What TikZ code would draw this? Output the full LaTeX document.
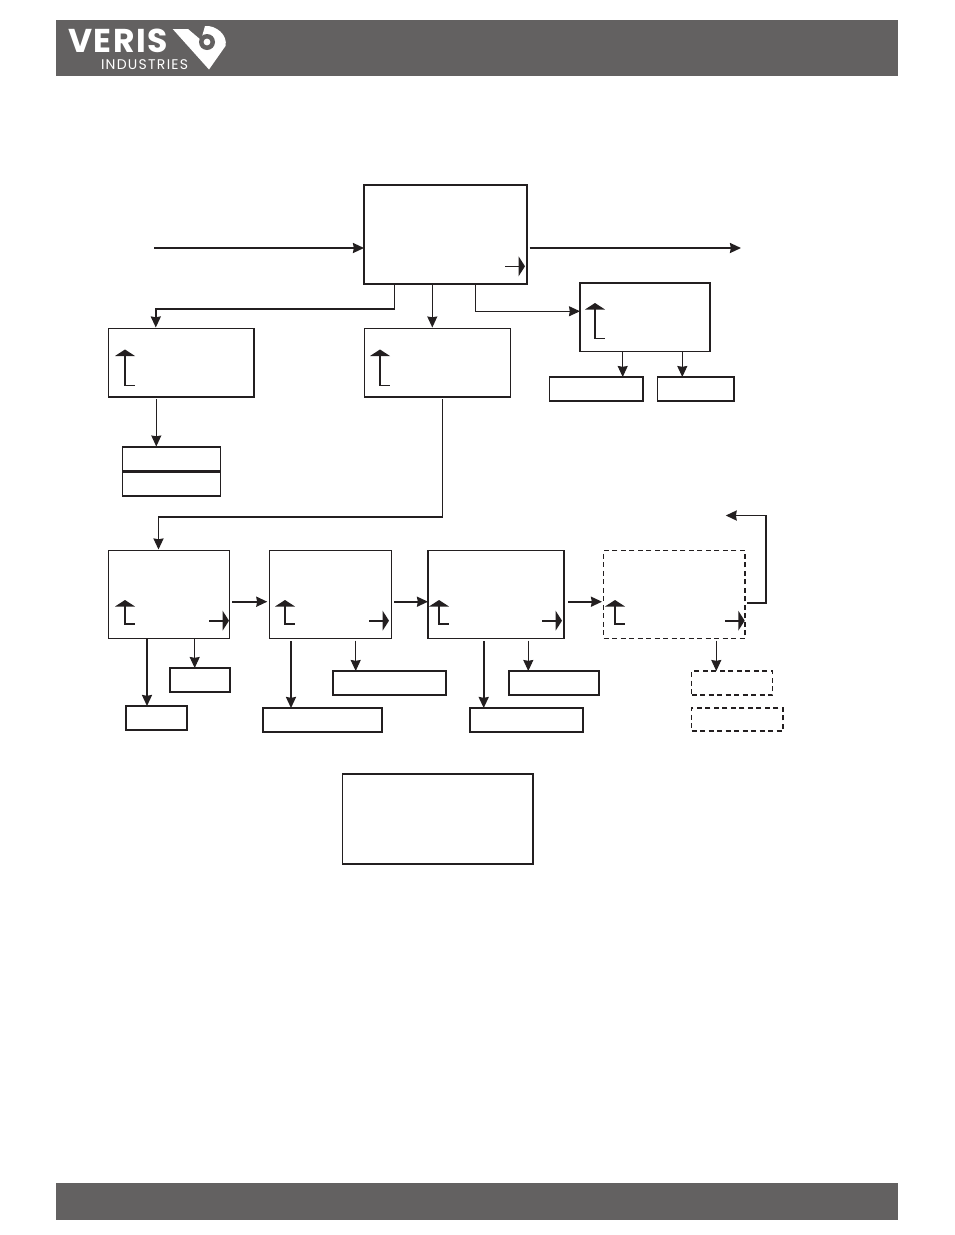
\documentclass[tikz,border=0pt]{standalone}
\usepackage{fontspec}
\setmainfont{Poppins}
\newfontfamily\verisfont[LetterSpace=5]{Poppins}
\newfontfamily\indfont[LetterSpace=9]{Poppins}
\usetikzlibrary{calc,arrows.meta}
\definecolor{barc}{HTML}{636161}
\definecolor{ink}{HTML}{231F20}
\tikzset{
 box/.style={draw=ink,anchor=north west,inner sep=0pt,outer sep=0pt,line width=1.7pt},
 thinbox/.style={box,line width=1.3pt},
 dbox/.style={box,line width=1.5pt,dash pattern=on 5pt off 3.5pt},
 link/.style={draw=ink,line width=1.1pt,-{Stealth[inset=0.8pt,length=11pt,width=10pt]}},
 boldlink/.style={link,line width=1.9pt,-{Stealth[inset=0.8pt,length=11pt,width=10pt]}},
 bar/.style={fill=barc,draw=none,anchor=north west,inner sep=0pt,outer sep=0pt},
 logo/.style={text=white,inner sep=0pt,outer sep=0pt,anchor=base west}
}
\newcommand{\mybox}[6][box]{\node[#1,minimum width=#4pt-#2pt,minimum height=#6pt-#5pt] (#3) at (#2,#5) {};}
\newcommand{\upmark}[4][1.9pt]{\draw[ink,line width=#1] (#2,#4+5)--(#2,#3)--(#2+10,#3);
 \fill[ink] (#2,#4)--(#2+10,#4+6.5)--(#2-10,#4+6.5)--cycle;}
\newcommand{\rgtmark}[3][1.9pt]{\draw[ink,line width=#1] (#2,#3)--(#2+14,#3);
 \fill[ink] (#2+19.7,#3)--(#2+13.3,#3+10)--(#2+13.3,#3-10)--cycle;}
\begin{document}
\begin{tikzpicture}[x=1pt,y=-1pt]
\useasboundingbox (0,0) rectangle (954,1235);
\fill[white] (0,0) rectangle (954,1235);
% bars
\mybox[bar]{56}{header}{898}{20}{76}
\mybox[bar]{56}{footer}{898}{1183}{1220}
% logo
\node[logo] (veris) at (68,52) {\fontsize{33}{33}\verisfont\bfseries\smash{VERIS}};
\node[logo] (ind) at (101,69) {\fontsize{14}{14}\indfont\smash{INDUSTRIES}};
\fill[white] (172.7,29)--(188,29)--(201,40)--(205,26)
 .. controls (216,25) and (228,35) .. (225.5,46)
 --(209,69.5)--cycle;
\fill[barc] (207,42) circle (8);
\fill[white] (207,42) circle (3.4);
% boxes
\mybox{364}{main}{527}{185}{284}
\mybox[thinbox]{108.3}{A}{254}{328.5}{397}
\mybox[thinbox]{364.3}{B}{510.5}{328.5}{397}
\mybox{580}{C}{710.3}{283}{351.5}
\mybox{549.5}{Ca}{643.3}{377}{401}
\mybox{657.5}{Cb}{734.3}{377}{401}
\mybox[thinbox]{122.3}{Aa}{220.3}{447}{471.5}
\mybox[thinbox]{122.3}{Ab}{220.3}{471.5}{496}
\draw[ink,line width=2.4pt] (Aa.south west)--(Aa.south east);
\mybox[thinbox]{108.3}{Ra}{229.3}{550.5}{638.5}
\mybox[thinbox]{269.3}{Rb}{391.3}{550.5}{638.5}
\mybox{427.7}{Rc}{564.3}{550.5}{638.5}
\mybox[dbox]{603.7}{Rd}{745}{550.5}{638.5}
\mybox{169.7}{Raa}{230}{668}{692.3}
\mybox{125.7}{Rab}{187.3}{706}{730.3}
\mybox{332.7}{Rba}{446}{671}{695}
\mybox{263.3}{Rbb}{382.3}{708}{732}
\mybox{509.3}{Rca}{599.3}{671}{695}
\mybox{469.7}{Rcb}{583.3}{708}{732}
\mybox[dbox]{691.7}{Rda}{772.7}{671}{695}
\mybox[dbox]{691.7}{Rdb}{783}{708}{731}
\mybox[thinbox]{342.5}{legend}{533}{774}{864}
% free ends
\coordinate (inStart) at (154,248);
\coordinate (outStart) at (529.5,248);
\coordinate (outEnd) at (741,248);
\coordinate (loopEnd) at (725.7,515.5);
% connectors
\draw[boldlink] (inStart) -- (inStart -| main.west);
\draw[boldlink] (outStart) -- (outEnd);
\draw[draw=ink,line width=1.1pt] ($(main.south west)+(30.7,0)$) -- ($(main.south west)+(30.7,25)$);
\draw[boldlink] ($(main.south west)+(30.7,25)$) -| ($(A.north west)+(47.5,-1)$);
\draw[link] ($(main.south west)+(68.3,0)$) -- ($(B.north west)+(68,-1)$);
\draw[link] ($(main.south west)+(111.7,0)$) |- ($(C.west)+(0,-6)$);
\draw[link] ($(C.south west)+(42.7,0)$) -- ($(Ca.north west)+(73.2,0)$);
\draw[link] ($(C.south west)+(102.3,0)$) -- ($(Cb.north west)+(24.8,0)$);
\draw[link] ($(A.south west)+(48,2)$) -- ($(Aa.north west)+(34,-0.5)$);
\draw[draw=ink,line width=1.1pt] ($(B.south west)+(78.2,2)$) -- ($(B.south west)+(78.2,120)$);
\draw[boldlink] ($(B.south west)+(78.2,120)$) -| ($(Ra.north west)+(50.2,-1)$);
\draw[boldlink] ($(Ra.east)+(3,7.2)$) -- ($(Rb.west)+(-2,7.2)$);
\draw[boldlink] ($(Rb.east)+(3,7.2)$) -- ($(Rc.west)+(0.3,7.2)$);
\draw[boldlink] ($(Rc.east)+(3.7,7.2)$) -- ($(Rd.west)+(-1.7,7.2)$);
\draw[boldlink] ($(Rd.east)+(2.3,8.5)$) -| ($(loopEnd)+(40.6,0)$) -- (loopEnd);
\draw[boldlink] ($(Ra.south west)+(38.7,0)$) -- ($(Rab.north west)+(21.3,0)$);
\draw[link] ($(Ra.south west)+(86.4,0)$) -- ($(Raa.north west)+(25,0)$);
\draw[boldlink] ($(Rb.south west)+(21.7,2.5)$) -- ($(Rbb.north west)+(27.7,0)$);
\draw[link] ($(Rb.south west)+(86.4,2)$) -- ($(Rba.north west)+(23,0)$);
\draw[boldlink] ($(Rc.south west)+(56,2.5)$) -- ($(Rcb.north west)+(14,0)$);
\draw[link] ($(Rc.south west)+(100.6,2)$) -- ($(Rca.north west)+(19,0)$);
\draw[link] ($(Rd.south west)+(112.6,2)$) -- ($(Rda.north west)+(24.6,0)$);
% marks
\upmark[1.4pt]{125}{385.3}{349.5}
\upmark[1.4pt]{380}{385.3}{349.5}
\upmark[1.4pt]{595}{338.3}{303}
\upmark{125}{624}{600}
\upmark{285}{624}{600}
\upmark{439}{624}{600}
\upmark{615}{624}{600}
\rgtmark[1.2pt]{505.3}{266.3}
\rgtmark{209.3}{620.7}
\rgtmark{369.3}{620.7}
\rgtmark{542.3}{620.7}
\rgtmark{725}{620.7}
\end{tikzpicture}
\end{document}
